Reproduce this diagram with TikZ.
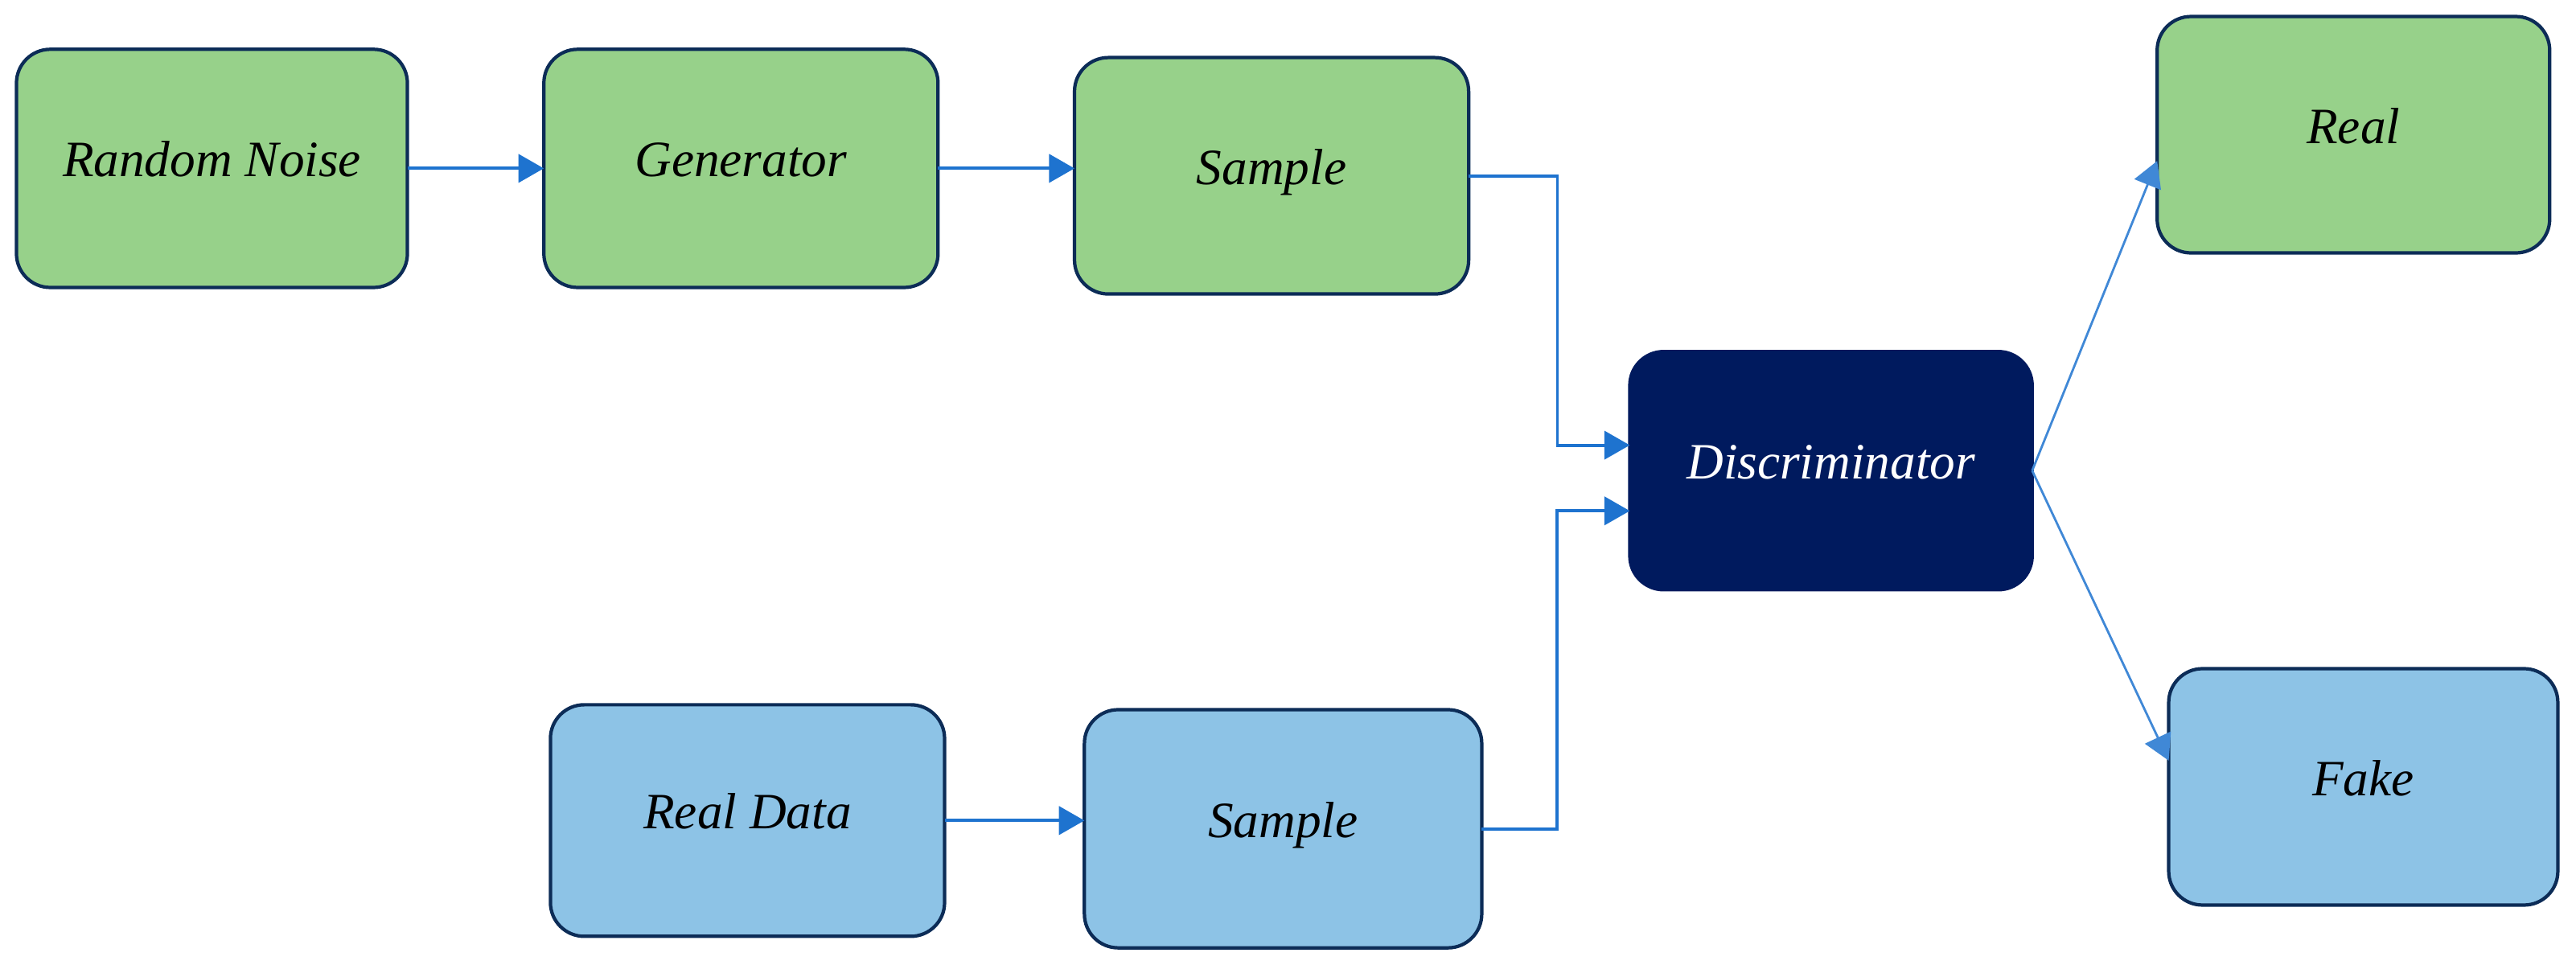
\documentclass[tikz,border=0pt]{standalone}
\usepackage{fontspec}
\setmainfont{Liberation Serif}
\usetikzlibrary{arrows.meta,calc}
\definecolor{gfill}{HTML}{97D18A}
\definecolor{bfill}{HTML}{8DC3E6}
\definecolor{navy}{HTML}{001A5E}
\definecolor{edge}{HTML}{0C2C57}
\definecolor{arrblue}{HTML}{1E73CF}
\tikzset{
  box/.style={rectangle, rounded corners=0.21cm, draw=edge, line width=0.6pt,
    inner sep=0pt, outer sep=0pt, text height=6pt, text depth=3pt,
    font=\fontsize{9}{11}\selectfont\itshape, text=black},
  gbox/.style={box, fill=gfill},
  bbox/.style={box, fill=bfill},
  dbox/.style={box, fill=navy, draw=navy, text=white},
  arr/.style={draw=arrblue, line width=0.55pt, -{Triangle[length=4.5pt,width=5pt]}},
  thinarr/.style={draw=arrblue!85, line width=0.4pt, -{Triangle[length=4.5pt,width=5pt]}}
}
\begin{document}
\begin{tikzpicture}[x=0.0102041cm, y=-0.0102041cm]
\useasboundingbox (0,0) rectangle (1568,587);
\node[gbox, minimum width=2.429cm, minimum height=1.480cm] (rn) at (129,102.5) {Random Noise};
\node[gbox, minimum width=2.449cm, minimum height=1.480cm] (gen) at (451,102.5) {Generator};
\node[gbox, minimum width=2.449cm, minimum height=1.469cm] (s1) at (774,107) {Sample};
\node[dbox, minimum width=2.500cm, minimum height=1.480cm] (disc) at (1114.5,286.5) {Discriminator};
\node[gbox, minimum width=2.439cm, minimum height=1.469cm] (real) at (1432.5,82) {Real};
\node[bbox, minimum width=2.449cm, minimum height=1.439cm] (rd) at (455,499.5) {Real Data};
\node[bbox, minimum width=2.469cm, minimum height=1.480cm] (s2) at (781,504.5) {Sample};
\node[bbox, minimum width=2.418cm, minimum height=1.469cm] (fake) at (1438.5,479) {Fake};

\draw[arr] (rn.east) -- (rn.east -| gen.west);
\draw[arr] (gen.east) -- (gen.east -| s1.west);
\draw[arr] (rd.east) -- (rd.east -| s2.west);
\draw[arr] (s1.east) -- ++(54,0) |- ($(disc.west)+(0,-15.5)$);
\draw[arr] (s2.east) -- ++(46,0) |- ($(disc.west)+(0,24.5)$);
\draw[thinarr] (disc.east) -- ($(real.west)+(0,16)$);
\draw[thinarr] (disc.east) -- ($(fake.west)+(0,-16)$);
\end{tikzpicture}
\end{document}
